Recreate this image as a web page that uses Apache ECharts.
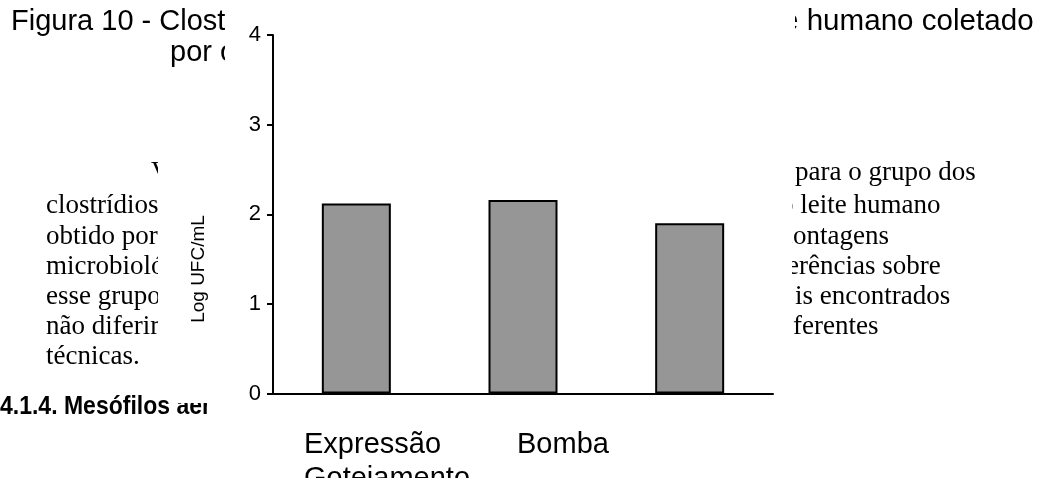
<!DOCTYPE html>
<html>
<head>
<meta charset="utf-8">
<script src="https://cdn.jsdelivr.net/npm/echarts@6/dist/echarts.min.js"></script>
<style>
  html, body { margin: 0; padding: 0; background: #fff; }
  #chart { width: 1043px; height: 484px; }
</style>
</head>
<body>
<div id="chart"></div>
<script>
// Milk collection technique and clostridia count (log UFC/mL)
const categories = ['Expressão', 'Bomba', 'Gotejamento'];
const logCounts = [2.12, 2.16, 1.9];
const yTicks = [0, 1, 2, 3, 4];
const yAxisTitle = 'Log UFC/mL';

// Surrounding page text, as it shows around the figure
const captionLeft = ['Figura 10 - Clost', 'por o'];
const captionRight = 'e humano coletado';
const bodyLeft = ['V', 'clostrídios', 'obtido por o', 'microbiológ', 'esse grupo', 'não diferiram, em', 'técnicas.'];
const bodyRight = ['para o grupo dos', 'o leite humano', 'contagens', 'ferências sobre', 'is encontrados', 'ferentes', ''];
const sectionHeading = '4.1.4. Mesófilos aeróbios';

const chart = echarts.init(document.getElementById('chart'), null, { renderer: 'canvas' });

const serif = '"Liberation Serif", "Times New Roman", serif';
const sans = '"Liberation Sans", Arial, sans-serif';

function txt(text, x, y, font, size, opts, extraStyle) {
  return Object.assign({
    type: 'text', z: 0, x: x, y: y,
    style: Object.assign({ text: text, fontFamily: font, fontSize: size, fill: '#000', verticalAlign: 'middle', align: 'left' }, extraStyle || {})
  }, opts || {});
}

const g = [];
// caption
g.push(txt(captionLeft[0], 11, 22, sans, 29));
g.push(txt(captionLeft[1], 170, 53, sans, 29));
g.push(txt(captionRight, 782, 22, sans, 29, { scaleX: 1.02 }));
// body paragraph
const leftX = [151, 46, 46, 46, 46, 46, 46];
const rightX = [795, 780, 781, 778, 795, 793, 795];
const lineY = [173, 206, 237, 267, 297, 327, 357];
bodyLeft.forEach((t, i) => g.push(txt(t, leftX[i], lineY[i], serif, 27)));
bodyRight.forEach((t, i) => { if (t) g.push(txt(t, rightX[i], lineY[i], serif, 27)); });
// section heading
g.push(txt(sectionHeading, 0, 407, sans, 23, { scaleY: 1.12 }, { fontWeight: 'bold' }));

// white figure background laid over the page text
const mask = (x, y, w, h, z) => ({ type: 'rect', z: z || 1, shape: { x: x, y: y, width: w, height: h }, style: { fill: '#fff' } });
g.push(mask(225, 0, 570, 95));
g.push(mask(158, 95, 634, 280));
g.push(mask(176, 375, 616, 28));
g.push(mask(207, 403, 588, 75));
g.push(mask(0, 478, 1043, 6, 21));

// category labels, written as one wrapped text block
g.push(txt(categories[0], 304, 445, sans, 29, { z: 20 }));
g.push(txt(categories[1], 517, 445, sans, 29, { z: 20 }));
g.push(txt(categories[2], 304, 479, sans, 29, { z: 20 }));

// y axis title
g.push({
  type: 'text', z: 20, x: 199, y: 269, rotation: Math.PI / 2,
  style: { text: yAxisTitle, fontFamily: sans, fontSize: 19, fill: '#000', align: 'center', verticalAlign: 'middle' }
});

chart.setOption({
  animation: false,
  backgroundColor: '#fff',
  grid: { left: 273, right: 270, top: 35, bottom: 90.5, containLabel: false },
  xAxis: {
    type: 'category', data: categories, z: 10,
    axisLine: { lineStyle: { color: '#000', width: 2 } },
    axisTick: { show: false },
    axisLabel: { show: false }
  },
  yAxis: {
    type: 'value', min: yTicks[0], max: yTicks[yTicks.length - 1], interval: 1, z: 10,
    axisLine: { show: true, lineStyle: { color: '#000', width: 2 } },
    axisTick: { show: true, length: 6, lineStyle: { color: '#000', width: 2 } },
    axisLabel: { color: '#000', fontFamily: sans, fontSize: 22, margin: 12 },
    splitLine: { show: false }
  },
  graphic: { elements: g },
  series: [{
    type: 'bar', z: 10,
    data: logCounts,
    barWidth: 69,
    itemStyle: { color: '#969696', borderColor: '#000', borderWidth: 2 }
  }]
});
</script>
</body>
</html>
